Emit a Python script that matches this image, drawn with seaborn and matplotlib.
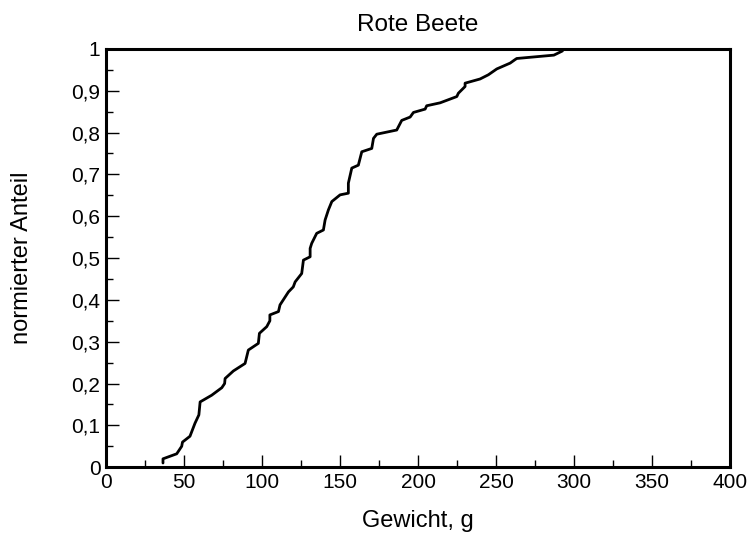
import matplotlib
matplotlib.use("Agg")
import matplotlib.pyplot as plt
import seaborn as sns
import pandas as pd
from matplotlib.ticker import MultipleLocator, FuncFormatter

# Empirical cumulative distribution of beet weights
gewicht = [36.5, 36.5, 45.3, 48.5, 49.0, 53.8, 57.0, 59.5, 60.3, 67.7,
           74.2, 76.0, 76.3, 81.6, 89.1, 91.2, 97.6, 98.3, 103.0, 105.0,
           105.0, 110.5, 111.5, 116.9, 120.0, 121.2, 125.4, 126.5, 130.8, 130.8,
           131.8, 135.0, 139.3, 140.4, 142.5, 144.7, 150.0, 155.3, 155.3, 157.5,
           161.7, 163.9, 170.3, 171.4, 173.5, 186.3, 189.5, 194.9, 197.0, 204.5,
           205.5, 214.1, 224.8, 225.8, 230.1, 230.1, 239.7, 245.0, 250.4, 259.0,
           262.0, 263.2, 287.0, 292.5]
anteil = [0.010, 0.020, 0.032, 0.050, 0.060, 0.074, 0.105, 0.125, 0.156, 0.172,
          0.190, 0.200, 0.212, 0.230, 0.248, 0.280, 0.296, 0.320, 0.336, 0.350,
          0.364, 0.372, 0.388, 0.419, 0.431, 0.443, 0.463, 0.495, 0.503, 0.523,
          0.535, 0.559, 0.567, 0.591, 0.615, 0.635, 0.651, 0.655, 0.679, 0.715,
          0.722, 0.754, 0.762, 0.786, 0.796, 0.806, 0.829, 0.837, 0.848, 0.856,
          0.864, 0.871, 0.886, 0.894, 0.910, 0.918, 0.928, 0.938, 0.952, 0.966,
          0.974, 0.977, 0.985, 0.995]

df = pd.DataFrame({"Gewicht": gewicht, "Anteil": anteil})

sns.set_style("white")
plt.rcParams["font.family"] = ["Liberation Sans", "DejaVu Sans"]
plt.rcParams["text.color"] = "black"
plt.rcParams["axes.labelcolor"] = "black"
plt.rcParams["xtick.color"] = "black"
plt.rcParams["ytick.color"] = "black"

fig = plt.figure(figsize=(7.52, 5.37), dpi=100)
ax = fig.add_axes([0.141, 0.130, 0.830, 0.779])

sns.lineplot(data=df, x="Gewicht", y="Anteil", sort=False, estimator=None,
             color="black", linewidth=2.0, ax=ax)

ax.set_xlim(0, 400)
ax.set_ylim(0, 1)
ax.xaxis.set_major_locator(MultipleLocator(50))
ax.xaxis.set_minor_locator(MultipleLocator(25))
ax.yaxis.set_major_locator(MultipleLocator(0.1))
ax.yaxis.set_minor_locator(MultipleLocator(0.05))

def komma(v, pos):
    s = f"{v:.1f}".rstrip("0").rstrip(".")
    return s.replace(".", ",")

ax.yaxis.set_major_formatter(FuncFormatter(komma))

ax.tick_params(axis="both", which="major", direction="in", length=9, width=1,
               labelsize=15, colors="black", labelcolor="black", pad=4,
               bottom=True, left=True, top=False, right=False)
ax.tick_params(axis="both", which="minor", direction="in", length=5, width=1,
               colors="black",
               bottom=True, left=True, top=False, right=False)

for sp in ax.spines.values():
    sp.set_visible(True)
    sp.set_color("black")
    sp.set_linewidth(2.2)

ax.set_title("Rote Beete", fontsize=17.5, pad=13, color="black")
ax.set_xlabel("Gewicht, g", fontsize=17, labelpad=13, color="black")
ax.set_ylabel("normierter Anteil", fontsize=17, labelpad=28, color="black")
ax.grid(False)

fig.savefig("out.png", dpi=100)
